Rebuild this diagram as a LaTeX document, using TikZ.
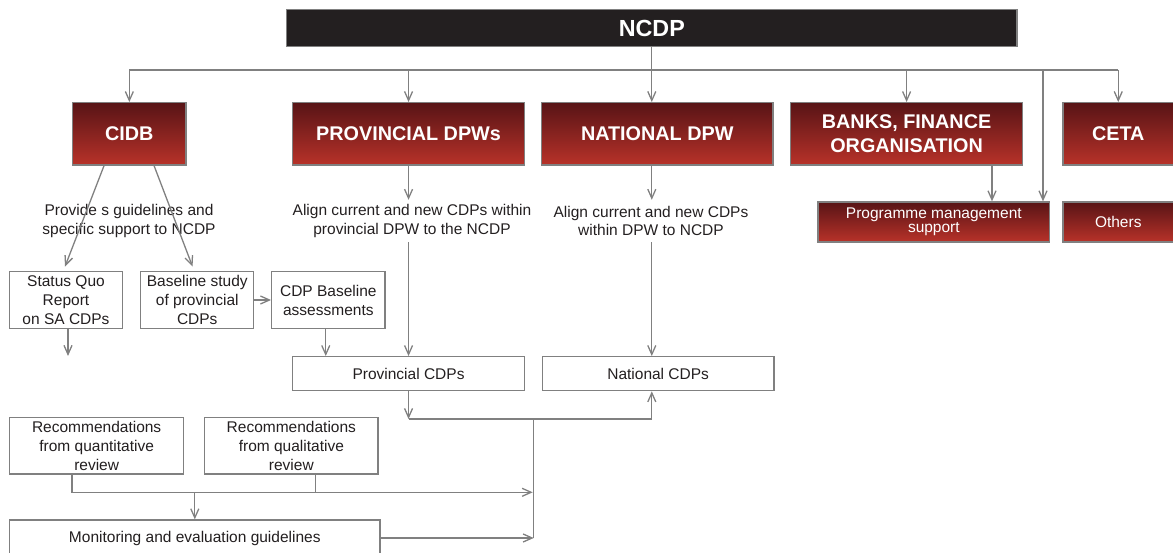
\documentclass[tikz,border=0pt]{standalone}
\usepackage{fontspec}
\setmainfont{Liberation Sans}
\usetikzlibrary{calc,arrows.meta}
\definecolor{lg}{RGB}{128,128,128}
\definecolor{rtop}{RGB}{88,20,22}
\definecolor{rbot}{RGB}{184,50,41}
\definecolor{ink}{RGB}{35,31,32}
\tikzset{
 wh/.style 2 args={minimum width=#1pt, minimum height=#2pt},
 conn/.style={draw=lg, line width=1.3pt},
 arr/.style={conn, -{Straight Barb[length=9pt,width=8pt]}},
 redbox/.style={draw=lg, line width=1.3pt, top color=rtop, bottom color=rbot, text=white, font=\fontsize{19.8}{23.4}\selectfont\bfseries, align=center, inner sep=0pt},
 redsmall/.style={redbox, font=\fontsize{15.5}{13.5}\selectfont},
 wbox/.style={draw=lg, line width=1.3pt, fill=white, text=ink, font=\fontsize{15.5}{19}\selectfont, align=center, inner sep=0pt},
 lbl/.style={text=ink, font=\fontsize{15.5}{18.3}\selectfont, align=center, inner sep=0pt, minimum height=42pt},
}
\begin{document}
\begin{tikzpicture}[x=1pt,y=1pt]
\useasboundingbox (0,0) rectangle (1173,-553);
% top
\node[fill=ink, draw=lg, line width=1.3pt, wh={730.4}{37.4}, text=white, font=\fontsize{23.3}{28}\selectfont\bfseries] (ncdp) at (651.8,-28) {NCDP};
% red boxes
\node[redbox, wh={113.3}{62.3}] (cidb) at (129.35,-133.85) {CIDB};
\node[redbox, wh={231.5}{62.3}] (prov) at (408.55,-133.85) {PROVINCIAL DPWs};
\node[redbox, wh={231.5}{62.3}] (nat) at (657.25,-133.85) {NATIONAL DPW};
\node[redbox, wh={231.8}{62.3}] (banks) at (906.6,-133.85) {BANKS, FINANCE\\ORGANISATION};
\node[redbox, wh={110.5}{62.3}] (ceta) at (1118.25,-133.85) {CETA};
\node[redsmall, wh={231.7}{40}] (prog) at (933.85,-222) {Programme management\\support};
\node[redsmall, wh={110.5}{40}] (others) at (1118.25,-222) {Others};
% labels
\node[lbl] (cidbtxt) at (129,-221) {Provide s guidelines and\\specific support to NCDP};
\node[lbl] (provtxt) at (412,-221) {Align current and new CDPs within\\provincial DPW to the NCDP};
\node[lbl] (nattxt) at (651,-221) {Align current and new CDPs\\within DPW to NCDP};
% white boxes
\node[wbox, wh={113}{56.6}] (sq) at (66,-300) {Status Quo\\Report\\on SA CDPs};
\node[wbox, wh={113}{56.6}] (base) at (197.25,-300) {Baseline study\\of provincial\\CDPs};
\node[wbox, wh={113.3}{56.6}] (cdpb) at (328.35,-300) {CDP Baseline\\assessments};
\node[wbox, wh={231.5}{34}] (provcdp) at (408.55,-373.7) {Provincial CDPs};
\node[wbox, wh={231.7}{34}] (natcdp) at (658.15,-373.7) {National CDPs};
\node[wbox, wh={174.1}{56.7}] (recq) at (96.65,-445.65) {Recommendations\\from quantitative\\review};
\node[wbox, wh={173.3}{56.7}] (recl) at (291.35,-445.65) {Recommendations\\from qualitative\\review};
\node[wbox, wh={370.4}{36}] (mon) at (194.8,-538) {Monitoring and evaluation guidelines};
% bus
\coordinate (busy) at (0,-70);
\draw[conn] (ncdp.south) -- (ncdp.south |- busy);
\draw[conn] (cidb.north |- busy) -- (ceta.north |- busy);
\draw[arr] (cidb.north |- busy) -- (cidb.north);
\draw[arr] (prov.north |- busy) -- (prov.north);
\draw[arr] (ncdp.south |- busy) -- (ncdp.south |- nat.north);
\draw[arr] (banks.north |- busy) -- (banks.north);
\draw[arr] (ceta.north |- busy) -- (ceta.north);
\coordinate (pmx) at (1043,-70);
\draw[arr] (pmx) -- (pmx |- prog.north);
\coordinate (bk) at (992,0);
\draw[arr] (bk |- banks.south) -- (bk |- prog.north);
% CIDB
\draw[arr] ($(cidb.south)+(-25.3,0)$) -- ($(sq.north)+(-1,4.5)$);
\draw[arr] ($(cidb.south)+(24.7,0)$) -- ($(base.north)+(-4.7,4.5)$);
% provincial / national
\draw[arr] (prov.south) -- (prov.south |- provtxt.north);
\draw[arr] (prov.south |- provtxt.south) -- (prov.south |- provcdp.north);
\draw[arr] (ncdp.south |- nat.south) -- (ncdp.south |- nattxt.north);
\draw[arr] (ncdp.south |- nattxt.south) -- (ncdp.south |- natcdp.north);
% baseline
\draw[arr] (base.east) -- (cdpb.west);
\coordinate (sqend) at ($(sq.south)+(2,-27)$);
\draw[arr] (sqend |- sq.south) -- (sqend);
\coordinate (cb) at ($(cdpb.south)+(-2.6,0)$);
\draw[arr] (cb) -- (cb |- provcdp.north);
% lower junction
\coordinate (j) at (533.7,-419);
\draw[arr] (provcdp.south) -- (provcdp.south |- j);
\draw[arr] (provcdp.south |- j) -- (ncdp.south |- j) -- (ncdp.south |- natcdp.south);
\draw[conn] (j) -- (j |- mon.east);
\coordinate (rq) at ($(recq.south)+(-24.65,0)$);
\coordinate (rl) at ($(recl.south)+(24.35,0)$);
\coordinate (ry) at (0,-492.3);
\draw[arr] (rq) -- (rq |- ry) -- ($(j |- ry)+(-1,0)$);
\draw[conn] (rl) -- (rl |- ry);
\draw[arr] (mon.north |- ry) -- (mon.north);
\draw[arr] (mon.east) -- (j |- mon.east);
\end{tikzpicture}
\end{document}
